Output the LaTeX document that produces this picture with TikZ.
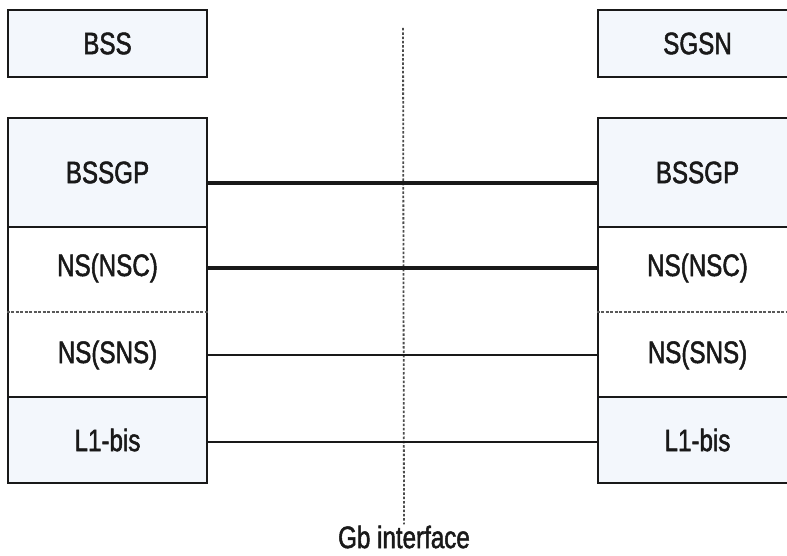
\documentclass[tikz,border=0pt]{standalone}
\usepackage{fontspec}
\setmainfont{Liberation Sans}[FakeStretch=0.78,FakeBold=1.6]
\definecolor{boxfill}{RGB}{243,247,252}
\definecolor{inkc}{RGB}{25,25,25}
\begin{document}
\begin{tikzpicture}[x=1pt,y=-1pt,
  every node/.style={font=\fontsize{31}{36}\selectfont, text=inkc},
  layer/.style={draw=inkc, line width=2.8pt, minimum width=199pt, inner sep=0pt},
  tinted/.style={fill=boxfill},
  plain/.style={fill=white},
  thickline/.style={draw=inkc, line width=3.6pt},
  thinline/.style={draw=inkc, line width=2.2pt},
  sepdot/.style={draw=gray!70!black, line width=1.3pt, dash pattern=on 3pt off 1.5pt},
  vdash/.style={draw=gray!60!black, line width=1.8pt, dash pattern=on 2.5pt off 1.8pt}
]
\useasboundingbox (0,0) rectangle (787,556);
\begin{scope}
\clip (0,0) rectangle (787,556);
% interface line
\coordinate (vtop) at (403,28);
\node[inner sep=1pt] (gb) at (404,537) {Gb interface};
\draw[vdash] (vtop) -- (gb.north);
% left side
\node[layer, tinted, minimum height=67pt] (bss) at (107.5,43.5) {BSS};
\node[layer, tinted, minimum height=109pt] (lbssgp) at (107.5,172.5) {BSSGP};
\node[layer, plain, minimum height=170pt] (lns) at (107.5,312) {};
\node[layer, tinted, minimum height=86pt] (ll1) at (107.5,440) {L1-bis};
\draw[sepdot] (lns.west) -- (lns.east);
\node (lnsc) at (107.5,268) {NS(NSC)};
\node (lsns) at (107.5,355) {NS(SNS)};
% right side
\node[layer, tinted, minimum height=67pt] (sgsn) at (697.5,43.5) {SGSN};
\node[layer, tinted, minimum height=109pt] (rbssgp) at (697.5,172.5) {BSSGP};
\node[layer, plain, minimum height=170pt] (rns) at (697.5,312) {};
\node[layer, tinted, minimum height=86pt] (rl1) at (697.5,440) {L1-bis};
\draw[sepdot] (rns.west) -- (rns.east);
\node (rnsc) at (697.5,268) {NS(NSC)};
\node (rsns) at (697.5,355) {NS(SNS)};
% peer connections
\draw[thickline] ([yshift=-10.5pt]lbssgp.east) -- ([yshift=-10.5pt]rbssgp.west);
\draw[thickline] (lns.east |- lnsc) -- (rns.west |- rnsc);
\draw[thinline] (lns.east |- lsns) -- (rns.west |- rsns);
\draw[thinline] ([yshift=-2pt]ll1.east) -- ([yshift=-2pt]rl1.west);
\end{scope}
\end{tikzpicture}
\end{document}
